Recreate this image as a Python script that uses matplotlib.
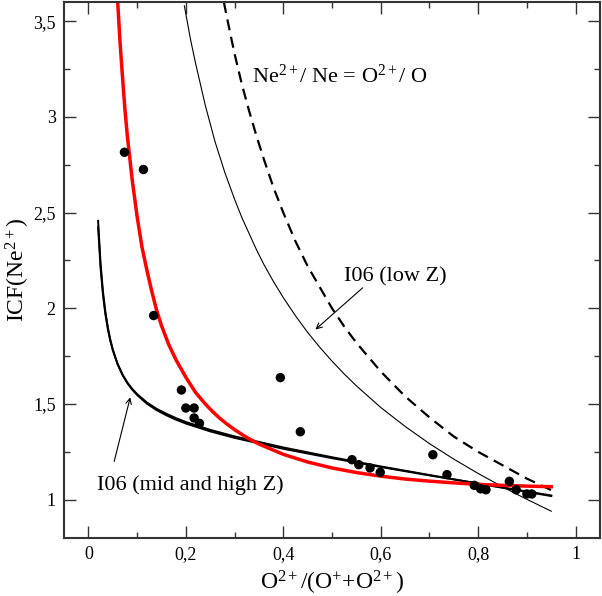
import matplotlib
matplotlib.use("Agg")
import matplotlib.pyplot as plt
from matplotlib.ticker import MultipleLocator, FixedLocator, FixedFormatter

plt.rcParams['font.family'] = ['Liberation Serif', 'DejaVu Serif']
plt.rcParams['mathtext.fontset'] = 'custom'
plt.rcParams['mathtext.rm'] = 'Liberation Serif'
plt.rcParams['mathtext.it'] = 'Liberation Serif:italic'
plt.rcParams['mathtext.bf'] = 'Liberation Serif:bold'

# --- data ---
# observed points
obs_x = [0.074, 0.113, 0.134, 0.191, 0.200, 0.217, 0.217, 0.228, 0.394, 0.435,
         0.541, 0.555, 0.578, 0.599, 0.707, 0.736, 0.792, 0.805, 0.816, 0.864,
         0.878, 0.900, 0.910]
obs_y = [2.815, 2.725, 1.962, 1.573, 1.479, 1.479, 1.427, 1.399, 1.638, 1.355,
         1.209, 1.183, 1.166, 1.143, 1.235, 1.131, 1.075, 1.057, 1.052, 1.096,
         1.052, 1.030, 1.030]

# red curve
red_x = [0.060, 0.065, 0.07, 0.075, 0.08, 0.09, 0.10, 0.11, 0.12, 0.13, 0.14, 0.15,
         0.165, 0.18, 0.20, 0.22, 0.24, 0.255, 0.27, 0.285, 0.30, 0.325, 0.35, 0.40,
         0.45, 0.50, 0.55, 0.60, 0.65, 0.70, 0.75, 0.80, 0.85, 0.90, 0.95]
red_y = [3.61, 3.39, 3.21, 3.04, 2.90, 2.67, 2.48, 2.32, 2.20, 2.09, 1.99, 1.91,
         1.81, 1.73, 1.64, 1.56, 1.50, 1.460, 1.425, 1.394, 1.366, 1.325, 1.291, 1.237,
         1.197, 1.166, 1.142, 1.123, 1.108, 1.097, 1.088, 1.080, 1.075, 1.071, 1.068]

# I06 mid and high Z (two nearly overlapping curves)
mid_x = [0.02, 0.025, 0.03, 0.035, 0.04, 0.045, 0.05, 0.06, 0.07, 0.08, 0.09, 0.10,
         0.12, 0.14, 0.16, 0.18, 0.20, 0.25, 0.30, 0.40, 0.50, 0.60, 0.70, 0.80,
         0.90, 0.95]
mid1_y = [2.424, 2.212, 2.070, 1.968, 1.891, 1.830, 1.782, 1.708, 1.654, 1.612, 1.579, 1.552,
          1.508, 1.475, 1.449, 1.426, 1.406, 1.365, 1.331, 1.273, 1.222, 1.174, 1.129, 1.084,
          1.041, 1.019]
mid2_y = [2.457, 2.235, 2.087, 1.980, 1.900, 1.837, 1.786, 1.709, 1.652, 1.609, 1.575, 1.547,
          1.502, 1.468, 1.441, 1.418, 1.398, 1.357, 1.323, 1.266, 1.217, 1.171, 1.127, 1.085,
          1.043, 1.022]

# I06 low Z (thin curve)
low_x = [0.197, 0.21, 0.22, 0.23, 0.24, 0.26, 0.28, 0.30, 0.315, 0.33, 0.345, 0.36,
         0.38, 0.40, 0.425, 0.45, 0.475, 0.50, 0.525, 0.55, 0.60, 0.65, 0.70, 0.75,
         0.80, 0.85, 0.90, 0.95]
low_y = [3.58, 3.40, 3.28, 3.17, 3.06, 2.87, 2.71, 2.57, 2.474, 2.39, 2.306, 2.23,
         2.139, 2.056, 1.961, 1.874, 1.796, 1.724, 1.657, 1.595, 1.482, 1.383, 1.293, 1.212,
         1.137, 1.067, 1.002, 0.940]

# Ne2+/Ne = O2+/O (dashed)
eq_x = [0.278, 0.29, 0.30, 0.315, 0.33, 0.345, 0.36, 0.38, 0.40, 0.425, 0.45, 0.475, 0.50,
        0.525, 0.55, 0.60, 0.65, 0.70, 0.75, 0.80, 0.85, 0.90, 0.95]
eq_y = [3.60, 3.45, 3.33, 3.17, 3.03, 2.90, 2.78, 2.63, 2.50, 2.35, 2.22, 2.11, 2.00,
        1.905, 1.82, 1.67, 1.54, 1.43, 1.33, 1.25, 1.18, 1.11, 1.05]

xticks = [0, 0.2, 0.4, 0.6, 0.8, 1.0]
xtick_labels = ['0', '0,2', '0,4', '0,6', '0,8', '1']
yticks = [1, 1.5, 2, 2.5, 3, 3.5]
ytick_labels = ['1', '1,5', '2', '2,5', '3', '3,5']

fig = plt.figure(figsize=(6.02, 5.96), dpi=100)
ax = fig.add_axes([64/602, 1-538/596, 536/602, 536/596])

ax.plot(eq_x, eq_y, color='black', lw=1.6, dashes=(5, 3))
ax.plot(low_x, low_y, color='black', lw=0.8)
ax.plot(mid_x, mid1_y, color='black', lw=1.4)
ax.plot(mid_x, mid2_y, color='black', lw=1.4)
ax.plot(red_x, red_y, color='#ff0000', lw=2.5)
ax.scatter(obs_x, obs_y, s=46, color='black', zorder=5, edgecolors='none')

ax.set_xlim(-0.05, 1.05)
ax.set_ylim(0.8, 3.6)

ax.xaxis.set_major_locator(FixedLocator(xticks))
ax.xaxis.set_major_formatter(FixedFormatter(xtick_labels))
ax.yaxis.set_major_locator(FixedLocator(yticks))
ax.yaxis.set_major_formatter(FixedFormatter(ytick_labels))
ax.xaxis.set_minor_locator(MultipleLocator(0.1))
ax.yaxis.set_minor_locator(MultipleLocator(0.25))
ax.tick_params(which='both', direction='in', top=True, right=True, width=1.0, color='#333333')
ax.tick_params(which='major', length=8.5, labelsize=13, pad=6)
ax.tick_params(which='minor', length=4.5)
for sp in ax.spines.values():
    sp.set_linewidth(1.5)
    sp.set_color('#333333')

ax.set_xlabel(r'O$^{\mathrm{2+}}$/(O$^{\mathrm{+}}$+O$^{\mathrm{2+}}$)', fontsize=17, labelpad=4)
ax.set_ylabel(r'ICF(Ne$^{\mathrm{2+}}$)', fontsize=17, labelpad=1)

ax.text(0.335, 3.18, r'Ne$^{\mathrm{2+}}$/ Ne = O$^{\mathrm{2+}}$/ O', fontsize=16, ha='left', va='baseline')
ax.text(0.524, 2.141, 'I06 (low Z)', fontsize=16, ha='left', va='baseline')
ax.text(0.018, 1.049, 'I06 (mid and high Z)', fontsize=16, ha='left', va='baseline')

ax.annotate('', xy=(0.466, 1.889), xytext=(0.563, 2.107),
            arrowprops=dict(arrowstyle='->', lw=0.8, color='black', shrinkA=0, shrinkB=0,
                            mutation_scale=10))
ax.annotate('', xy=(0.086, 1.535), xytext=(0.053, 1.20),
            arrowprops=dict(arrowstyle='->', lw=0.8, color='black', shrinkA=0, shrinkB=0,
                            mutation_scale=10))

fig.savefig('out.png', dpi=100)
